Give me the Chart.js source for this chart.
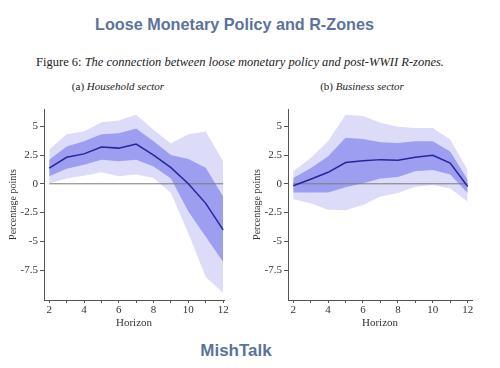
<!DOCTYPE html>
<html>
<head>
<meta charset="utf-8">
<script src="https://cdn.jsdelivr.net/npm/chart.js@4.4.1/dist/chart.umd.min.js"></script>
<style>
  html, body { margin: 0; padding: 0; background: #ffffff; }
  #page { position: relative; width: 500px; height: 368px; overflow: hidden; background: #fff; }
  .abs { position: absolute; white-space: nowrap; }
  #title { left: 0; width: 469px; top: 15px; text-align: center; font: bold 16.2px "Liberation Sans", Arial, sans-serif; color: #5b739c; }
  #caption { left: 0; width: 480px; top: 55px; text-align: center; font: 12.5px "Liberation Serif", serif; color: #222; }
  .sub { top: 80px; text-align: center; font: 11px "Liberation Serif", serif; color: #222; }
  #subA { left: 38px; width: 160px; }
  #subB { left: 282px; width: 160px; }
  #brand { left: 0; width: 472px; top: 341px; text-align: center; font: bold 17px "Liberation Sans", Arial, sans-serif; color: #5b739c; }
  .box { position: absolute; }
  #boxA { left: 0; top: 100px; width: 240px; height: 232px; }
  #boxB { left: 244px; top: 100px; width: 244px; height: 232px; }
</style>
</head>
<body>
<div id="page">
  <div id="title" class="abs">Loose Monetary Policy and R-Zones</div>
  <div id="caption" class="abs">Figure 6: <i>The connection between loose monetary policy and post-WWII R-zones.</i></div>
  <div id="subA" class="abs sub">(a) <i>Household sector</i></div>
  <div id="subB" class="abs sub">(b) <i>Business sector</i></div>
  <div id="boxA" class="box"><canvas id="chartA"></canvas></div>
  <div id="boxB" class="box"><canvas id="chartB"></canvas></div>
  <div id="brand" class="abs">MishTalk</div>
</div>
<script>
// ---- Data ----
const horizons = [2, 3, 4, 5, 6, 7, 8, 9, 10, 11, 12];
const xTickLabels = [2, 4, 6, 8, 10, 12];
const yTickValues = [-7.5, -5, -2.5, 0, 2.5, 5];

// (a) Household sector
const hhEstimate   = [1.37, 2.3, 2.6, 3.2, 3.1, 3.45, 2.5, 1.4, 0.0, -1.7, -4.0];
const hhInnerUpper = [2.1, 3.25, 3.7, 4.3, 4.4, 4.8, 3.7, 2.5, 2.15, 1.4, -1.1];
const hhInnerLower = [0.65, 1.3, 1.65, 2.1, 1.95, 2.1, 1.5, 0.45, -2.4, -4.6, -6.8];
const hhOuterUpper = [2.95, 4.3, 4.55, 5.35, 5.5, 6.0, 4.7, 3.5, 4.3, 4.55, 1.95];
const hhOuterLower = [0.05, 0.45, 0.7, 1.0, 0.65, 0.8, 0.5, -0.8, -4.3, -8.1, -9.5];

// (b) Business sector
const bsEstimate   = [-0.17, 0.4, 1.0, 1.85, 2.0, 2.1, 2.05, 2.3, 2.47, 1.8, -0.23];
const bsInnerUpper = [0.5, 1.35, 2.4, 4.0, 3.9, 3.6, 3.55, 3.7, 3.7, 2.8, 0.35];
const bsInnerLower = [-0.75, -0.75, -0.75, -0.3, 0.05, 0.45, 0.6, 1.1, 1.2, 0.8, -0.8];
const bsOuterUpper = [1.1, 2.25, 3.7, 6.0, 5.9, 5.3, 4.95, 4.85, 4.85, 3.85, 1.2];
const bsOuterLower = [-1.35, -1.7, -2.25, -2.3, -1.85, -1.1, -0.8, -0.25, -0.1, -0.4, -1.55];

const zeroLine = horizons.map(() => 0);

// ---- Styles ----
const OUTER = '#dcdcf9';
const INNER = '#9e9ef0';
const LINE = '#25259a';
const AXIS = '#555555';
const SERIF = '"Liberation Serif", "DejaVu Serif", serif';

function pts(arr) { return horizons.map((h, i) => ({ x: h, y: arr[i] })); }

function makeChart(id, est, iu, il, ou, ol, xMax) {
  const band = (data, color, fill, order) => ({
    data: pts(data), borderWidth: 0, borderColor: 'rgba(0,0,0,0)',
    backgroundColor: color, fill: fill, pointRadius: 0, tension: 0, order: order
  });
  return new Chart(document.getElementById(id), {
    type: 'line',
    data: {
      datasets: [
        { data: pts(est), borderColor: LINE, borderWidth: 1.5, pointRadius: 0, fill: false, tension: 0, order: 0 },
        { data: pts(zeroLine), borderColor: '#7a7a7a', borderWidth: 1, pointRadius: 0, fill: false, order: 1 },
        band(iu, INNER, '+1', 2),
        band(il, INNER, false, 3),
        band(ou, OUTER, '+1', 4),
        band(ol, OUTER, false, 5)
      ]
    },
    options: {
      responsive: true,
      maintainAspectRatio: false,
      animation: false,
      events: [],
      layout: { padding: { top: 9, right: 16, bottom: 2, left: 0 } },
      plugins: { legend: { display: false }, tooltip: { enabled: false }, title: { display: false } },
      scales: {
        x: {
          type: 'linear', min: 1.7, max: xMax,
          afterBuildTicks: s => { s.ticks = horizons.map(v => ({ value: v })); },
          afterFit: s => { s.height = 30; },
          ticks: {
            autoSkip: false, maxRotation: 0, padding: 1,
            color: '#333', font: { family: SERIF, size: 11 },
            callback: v => xTickLabels.includes(v) ? String(v) : ''
          },
          grid: { drawOnChartArea: false, drawTicks: true, tickLength: 3, color: AXIS },
          border: { display: true, color: AXIS, width: 1 },
          title: { display: true, text: 'Horizon', color: '#333', font: { family: SERIF, size: 11 }, padding: { top: 0, bottom: 0 } }
        },
        y: {
          type: 'linear', min: -10.1, max: 6.5,
          afterBuildTicks: s => { s.ticks = yTickValues.map(v => ({ value: v })); },
          afterFit: s => { s.width = 44; },
          ticks: {
            color: '#333', padding: 2, font: { family: SERIF, size: 11 },
            callback: v => String(v)
          },
          grid: { drawOnChartArea: false, drawTicks: true, tickLength: 4, color: AXIS },
          border: { display: true, color: AXIS, width: 1 },
          title: { display: true, text: 'Percentage points', color: '#333', font: { family: SERIF, size: 10 }, padding: { top: 7, bottom: 2 } }
        }
      }
    }
  });
}

makeChart('chartA', hhEstimate, hhInnerUpper, hhInnerLower, hhOuterUpper, hhOuterLower, 12.05);
makeChart('chartB', bsEstimate, bsInnerUpper, bsInnerLower, bsOuterUpper, bsOuterLower, 12.25);
</script>
</body>
</html>
